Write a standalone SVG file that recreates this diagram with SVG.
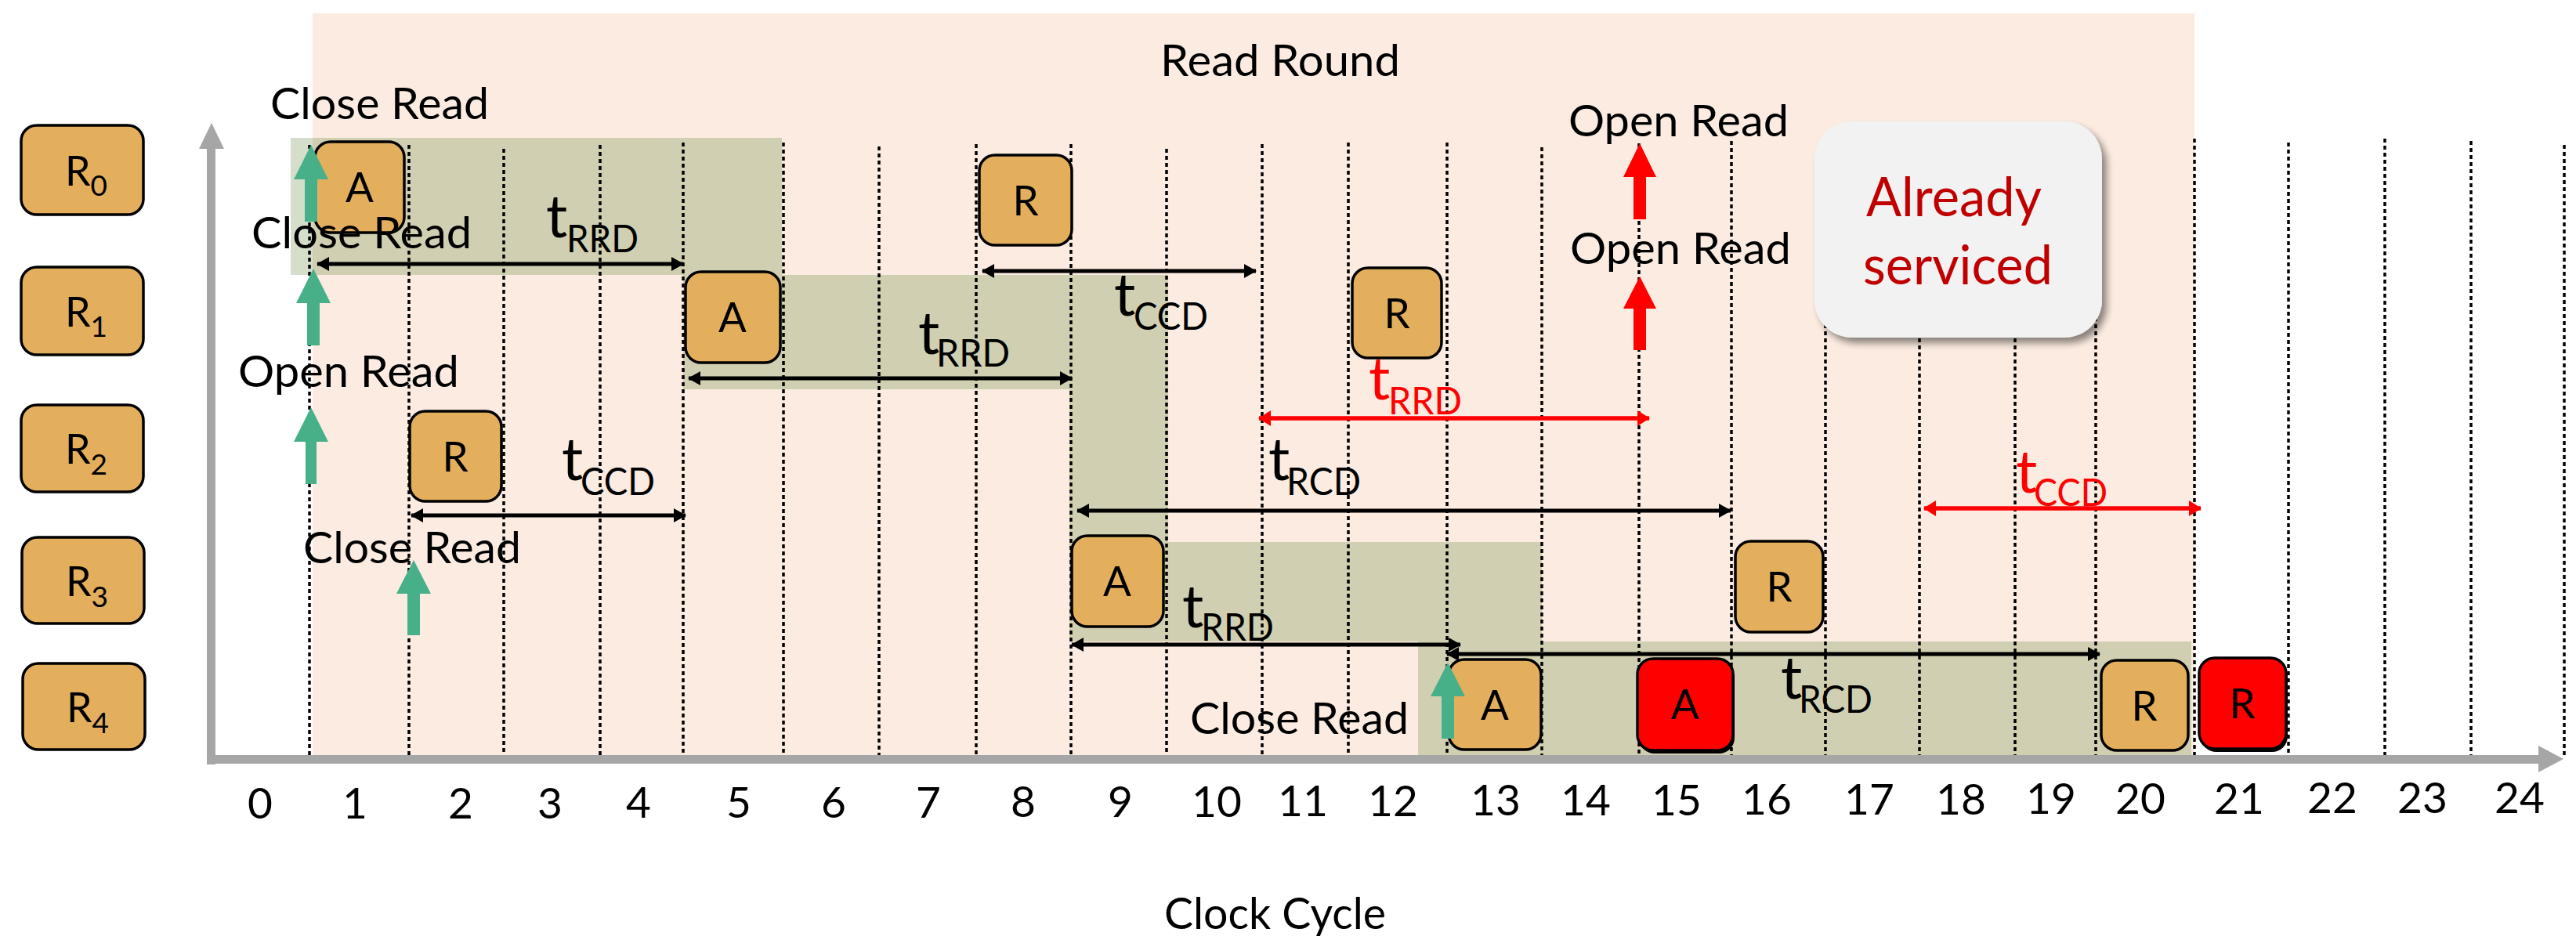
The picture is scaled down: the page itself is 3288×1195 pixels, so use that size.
<svg xmlns="http://www.w3.org/2000/svg" width="3288" height="1195" viewBox="0 0 3288 1195">
  <defs>
    <style>
      .txt { font-family: Lato, "Open Sans", "DejaVu Sans", sans-serif; fill: #000; }
      .lbl { font-size: 56px; }
      .box { fill: #E3AF5C; stroke: #000; stroke-width: 3.5; }
      .red { fill: #FF0000; stroke: #000; stroke-width: 3.5; }
      .bl { font-size: 53px; text-anchor: middle; }
      .rn { font-size: 52px; }
      .rs { font-size: 37px; }
      .tt { font-size: 76px; }
      .ts { font-size: 49px; }
      .grid { stroke: #000; stroke-width: 3.5; stroke-dasharray: 5 4; fill: none; }
      .dim { stroke: #000; stroke-width: 5; fill: none; marker-start: url(#hb); marker-end: url(#hb); }
      .dimr { stroke: #FF0000; stroke-width: 5.5; fill: none; marker-start: url(#hr); marker-end: url(#hr); }
      .band { fill: #D1CFB1; }
      .go { fill: #48B088; }
      .ro { fill: #FF0000; }
      .num { font-size: 55px; text-anchor: middle; }
      .rt { fill: #FF0000; }
    </style>
    <marker id="hb" viewBox="0 0 16 18" refX="15" refY="9" markerWidth="16" markerHeight="18" markerUnits="userSpaceOnUse" orient="auto-start-reverse">
      <path d="M0,0 L16,9 L0,18 Z" fill="#000"/>
    </marker>
    <marker id="hr" viewBox="0 0 16 20" refX="15" refY="10" markerWidth="16" markerHeight="20" markerUnits="userSpaceOnUse" orient="auto-start-reverse">
      <path d="M0,0 L16,10 L0,20 Z" fill="#FF0000"/>
    </marker>
    <filter id="shadow" x="-10%" y="-10%" width="125%" height="125%">
      <feGaussianBlur in="SourceAlpha" stdDeviation="5"/>
      <feOffset dx="6" dy="7" result="b"/>
      <feComponentTransfer><feFuncA type="linear" slope="0.45"/></feComponentTransfer>
      <feMerge><feMergeNode/><feMergeNode in="SourceGraphic"/></feMerge>
    </filter>
  </defs>

  <!-- read round background -->
  <g id="read-round">
    <rect x="399" y="17" width="2402" height="950" fill="#FBEBE0"/>
    <text class="txt lbl" x="1481" y="97" textLength="306" lengthAdjust="spacingAndGlyphs">Read Round</text>
  </g>

  <!-- busy windows per rank -->
  <g id="bands">
    <rect x="371" y="176" width="28" height="175" fill="#D4DECB"/>
    <rect class="band" x="399" y="176" width="599" height="175"/>
    <rect class="band" x="872" y="351" width="619" height="146"/>
    <rect class="band" x="1365" y="497" width="126" height="195"/>
    <rect class="band" x="1365" y="692" width="603" height="127"/>
    <rect class="band" x="1810" y="819" width="987" height="149"/>
  </g>

  <!-- clock cycle grid -->
  <g id="grid">
    <line class="grid" x1="395" y1="185" x2="395" y2="968"/>
    <line class="grid" x1="522" y1="185" x2="522" y2="968"/>
    <line class="grid" x1="643" y1="190" x2="643" y2="968"/>
    <line class="grid" x1="766" y1="185" x2="766" y2="968"/>
    <line class="grid" x1="872" y1="182" x2="872" y2="968"/>
    <line class="grid" x1="1000" y1="182" x2="1000" y2="968"/>
    <line class="grid" x1="1122" y1="187" x2="1122" y2="968"/>
    <line class="grid" x1="1246" y1="184" x2="1246" y2="968"/>
    <line class="grid" x1="1367" y1="184" x2="1367" y2="968"/>
    <line class="grid" x1="1489" y1="190" x2="1489" y2="968"/>
    <line class="grid" x1="1611" y1="184" x2="1611" y2="968"/>
    <line class="grid" x1="1721" y1="182" x2="1721" y2="968"/>
    <line class="grid" x1="1847" y1="182" x2="1847" y2="968"/>
    <line class="grid" x1="1968" y1="188" x2="1968" y2="968"/>
    <line class="grid" x1="2092" y1="183" x2="2092" y2="968"/>
    <line class="grid" x1="2210" y1="180" x2="2210" y2="968"/>
    <line class="grid" x1="2330" y1="180" x2="2330" y2="968"/>
    <line class="grid" x1="2450" y1="180" x2="2450" y2="968"/>
    <line class="grid" x1="2572" y1="180" x2="2572" y2="968"/>
    <line class="grid" x1="2675" y1="180" x2="2675" y2="968"/>
    <line class="grid" x1="2801" y1="177" x2="2801" y2="968"/>
    <line class="grid" x1="2921" y1="182" x2="2921" y2="968"/>
    <line class="grid" x1="3044" y1="177" x2="3044" y2="968"/>
    <line class="grid" x1="3154" y1="180" x2="3154" y2="968"/>
    <line class="grid" x1="3273" y1="185" x2="3273" y2="968"/>
  </g>

  <!-- axes -->
  <g id="axes" fill="#A6A6A6">
    <rect x="264" y="186" width="11" height="790"/>
    <polygon points="270,157 286,190 254,190"/>
    <rect x="264" y="964" width="2980" height="11"/>
    <polygon points="3272,969 3240,952 3240,986"/>
  </g>

  <!-- rank labels -->
  <g id="rank-0"><rect class="box" x="27" y="160" width="156" height="114" rx="20"/><text class="txt" x="83" y="237"><tspan class="rn">R</tspan><tspan class="rs" y="250">0</tspan></text></g>
  <g id="rank-1"><rect class="box" x="27" y="341" width="156" height="112" rx="20"/><text class="txt" x="83" y="417"><tspan class="rn">R</tspan><tspan class="rs" y="430">1</tspan></text></g>
  <g id="rank-2"><rect class="box" x="27" y="517" width="156" height="111" rx="20"/><text class="txt" x="83" y="592"><tspan class="rn">R</tspan><tspan class="rs" y="606">2</tspan></text></g>
  <g id="rank-3"><rect class="box" x="28" y="686" width="156" height="110" rx="20"/><text class="txt" x="84" y="761"><tspan class="rn">R</tspan><tspan class="rs" y="775">3</tspan></text></g>
  <g id="rank-4"><rect class="box" x="29" y="847" width="156" height="110" rx="20"/><text class="txt" x="85" y="922"><tspan class="rn">R</tspan><tspan class="rs" y="936">4</tspan></text></g>

  <!-- commands -->
  <g id="r0-act"><rect class="box" x="402" y="181" width="114" height="116" rx="20"/><text class="txt bl" x="459" y="258">A</text></g>
  <g id="r0-read"><rect class="box" x="1250" y="198" width="118" height="115" rx="20"/><text class="txt bl" x="1309" y="275">R</text></g>
  <g id="r1-act"><rect class="box" x="875" y="347" width="121" height="116" rx="20"/><text class="txt bl" x="935" y="424">A</text></g>
  <g id="r1-read"><rect class="box" x="1726" y="342" width="114" height="115" rx="20"/><text class="txt bl" x="1783" y="419">R</text></g>
  <g id="r2-read"><rect class="box" x="523" y="525" width="117" height="115" rx="20"/><text class="txt bl" x="581" y="602">R</text></g>
  <g id="r3-act"><rect class="box" x="1368" y="684" width="117" height="116" rx="20"/><text class="txt bl" x="1426" y="761">A</text></g>
  <g id="r3-read"><rect class="box" x="2215" y="691" width="112" height="116" rx="20"/><text class="txt bl" x="2271" y="768">R</text></g>
  <g id="r4-act"><rect class="box" x="1849" y="842" width="118" height="115" rx="20"/><text class="txt bl" x="1908" y="919">A</text></g>
  <g id="r4-act-late"><rect x="2092" y="845" width="122" height="117" rx="20" fill="#000"/><rect class="red" x="2090" y="841" width="122" height="117" rx="20"/><text class="txt bl" x="2151" y="918">A</text></g>
  <g id="r4-read"><rect class="box" x="2682" y="843" width="111" height="115" rx="20"/><text class="txt bl" x="2737" y="920">R</text></g>
  <g id="r4-read-late"><rect x="2809" y="844" width="111" height="116" rx="20" fill="#000"/><rect class="red" x="2807" y="840" width="111" height="116" rx="20"/><text class="txt bl" x="2862" y="917">R</text></g>

  <!-- already serviced note -->
  <g id="note">
    <rect x="2316" y="155" width="367" height="276" rx="48" fill="#F2F2F2" filter="url(#shadow)"/>
    <text class="txt rt" x="2494" y="276" font-size="70" text-anchor="middle" textLength="224" lengthAdjust="spacingAndGlyphs" style="fill:#C00000">Already</text>
    <text class="txt rt" x="2499" y="363" font-size="70" text-anchor="middle" textLength="242" lengthAdjust="spacingAndGlyphs" style="fill:#C00000">serviced</text>
  </g>

  <!-- read open/close events -->
  <g id="events">
    <polygon class="go" points="397,185 419,229 405,229 405,283 389,283 389,229 375,229"/>
    <polygon class="go" points="400,343 422,387 408,387 408,441 392,441 392,387 378,387"/>
    <polygon class="go" points="397,520 419,564 404,564 404,618 390,618 390,564 375,564"/>
    <polygon class="go" points="528,715 550,758 536,758 536,811 520,811 520,758 506,758"/>
    <polygon class="go" points="1848,846 1870,889 1856,889 1856,943 1840,943 1840,889 1826,889"/>
    <polygon class="ro" points="2093,183 2114,226 2101,226 2101,280 2085,280 2085,226 2072,226"/>
    <polygon class="ro" points="2093,353 2114,394 2101,394 2101,447 2085,447 2085,394 2072,394"/>
    <text class="txt lbl" x="345" y="152" textLength="279" lengthAdjust="spacingAndGlyphs">Close Read</text>
    <text class="txt lbl" x="321" y="317" textLength="281" lengthAdjust="spacingAndGlyphs">Close Read</text>
    <text class="txt lbl" x="304" y="494" textLength="282" lengthAdjust="spacingAndGlyphs">Open Read</text>
    <text class="txt lbl" x="387" y="719" textLength="278" lengthAdjust="spacingAndGlyphs">Close Read</text>
    <text class="txt lbl" x="1519" y="937" textLength="279" lengthAdjust="spacingAndGlyphs">Close Read</text>
    <text class="txt lbl" x="2002" y="174" textLength="281" lengthAdjust="spacingAndGlyphs">Open Read</text>
    <text class="txt lbl" x="2004" y="337" textLength="282" lengthAdjust="spacingAndGlyphs">Open Read</text>
  </g>

  <!-- timing constraints -->
  <g id="connectors">
    <line class="dim" x1="405" y1="337" x2="872" y2="337"/>
    <line class="dim" x1="879" y1="483" x2="1368" y2="483"/>
    <line class="dim" x1="1254" y1="346" x2="1603" y2="346"/>
    <line class="dim" x1="525" y1="658" x2="875" y2="658"/>
    <line class="dimr" x1="1607" y1="534" x2="2105" y2="534"/>
    <line class="dim" x1="1375" y1="652" x2="2209" y2="652"/>
    <line class="dimr" x1="2456" y1="649" x2="2809" y2="649"/>
    <line class="dim" x1="1368" y1="823" x2="1864" y2="823"/>
    <line class="dim" x1="1847" y1="835" x2="2680" y2="835"/>
  </g>
  <g id="timing-labels">
    <text class="txt"><tspan class="tt" x="697" y="303">t</tspan><tspan class="ts" x="723" y="322" textLength="92" lengthAdjust="spacingAndGlyphs">RRD</tspan></text>
    <text class="txt"><tspan class="tt" x="1172" y="452">t</tspan><tspan class="ts" x="1195" y="468" textLength="94" lengthAdjust="spacingAndGlyphs">RRD</tspan></text>
    <text class="txt"><tspan class="tt" x="1422" y="403">t</tspan><tspan class="ts" x="1447" y="421" textLength="95" lengthAdjust="spacingAndGlyphs">CCD</tspan></text>
    <text class="txt"><tspan class="tt" x="717" y="613">t</tspan><tspan class="ts" x="741" y="632" textLength="95" lengthAdjust="spacingAndGlyphs">CCD</tspan></text>
    <text class="txt rt"><tspan class="tt" x="1747" y="510">t</tspan><tspan class="ts" x="1772" y="529" textLength="94" lengthAdjust="spacingAndGlyphs">RRD</tspan></text>
    <text class="txt"><tspan class="tt" x="1619" y="613">t</tspan><tspan class="ts" x="1642" y="632" textLength="95" lengthAdjust="spacingAndGlyphs">RCD</tspan></text>
    <text class="txt rt"><tspan class="tt" x="2573" y="629">t</tspan><tspan class="ts" x="2596" y="646" textLength="94" lengthAdjust="spacingAndGlyphs">CCD</tspan></text>
    <text class="txt"><tspan class="tt" x="1509" y="801">t</tspan><tspan class="ts" x="1533" y="818" textLength="93" lengthAdjust="spacingAndGlyphs">RRD</tspan></text>
    <text class="txt"><tspan class="tt" x="2273" y="892">t</tspan><tspan class="ts" x="2296" y="910" textLength="94" lengthAdjust="spacingAndGlyphs">RCD</tspan></text>
  </g>

  <!-- cycle numbers -->
  <g id="cycles" class="txt num">
    <text x="332" y="1045">0</text>
    <text x="453" y="1045">1</text>
    <text x="588" y="1045">2</text>
    <text x="702" y="1045">3</text>
    <text x="815" y="1044">4</text>
    <text x="943" y="1044">5</text>
    <text x="1064" y="1044">6</text>
    <text x="1185" y="1044">7</text>
    <text x="1306" y="1043">8</text>
    <text x="1430" y="1043">9</text>
    <text x="1553" y="1043">10</text>
    <text x="1663" y="1042">11</text>
    <text x="1778" y="1042">12</text>
    <text x="1909" y="1041">13</text>
    <text x="2024" y="1041">14</text>
    <text x="2140" y="1041">15</text>
    <text x="2255" y="1040">16</text>
    <text x="2386" y="1040">17</text>
    <text x="2503" y="1040">18</text>
    <text x="2618" y="1039">19</text>
    <text x="2732" y="1039">20</text>
    <text x="2858" y="1039">21</text>
    <text x="2977" y="1038">22</text>
    <text x="3092" y="1038">23</text>
    <text x="3216" y="1038">24</text>
  </g>
  <text class="txt lbl" x="1486" y="1186" textLength="283" lengthAdjust="spacingAndGlyphs">Clock Cycle</text>
</svg>
